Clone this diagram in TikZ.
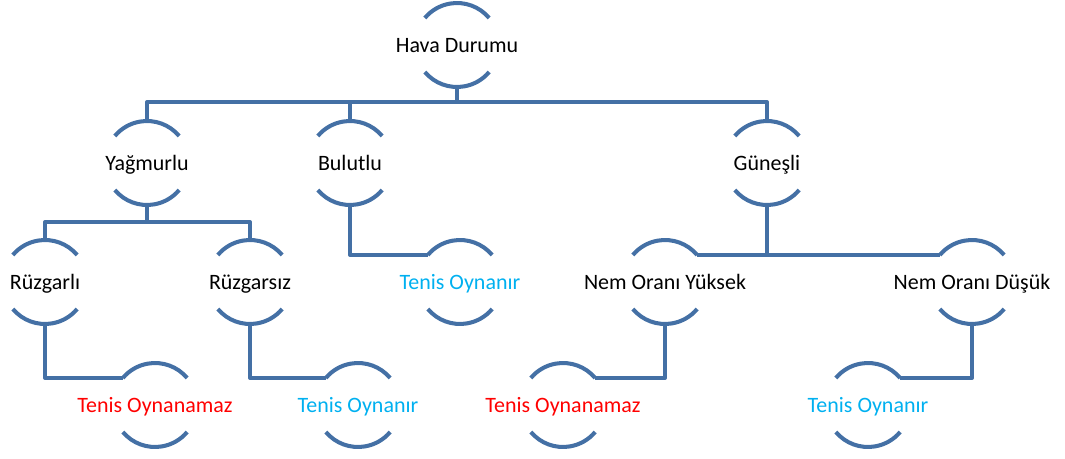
\documentclass[tikz,border=0pt]{standalone}
\usepackage{fontspec}
\setmainfont{Carlito}
\definecolor{treeblue}{RGB}{68,112,165}
\definecolor{playblue}{RGB}{0,176,240}
\definecolor{noplayred}{RGB}{255,0,0}
\tikzset{
  leaf/.style={circle,draw=none,minimum size=1.68cm,inner sep=0pt,outer sep=0pt},
  every label/.style={font=\fontsize{12.5}{15}\selectfont,inner sep=0pt,
    text height=8pt,text depth=0pt},
  play/.style={text=playblue},
  noplay/.style={text=noplayred},
  link/.style={draw=treeblue,line width=2.3pt,line join=round}
}
\begin{document}
\begin{tikzpicture}[x=0.02cm,y=0.02cm]
  \useasboundingbox (0,0) rectangle (1065,-459);

  \node[leaf,label={center:Hava Durumu}] (hava) at (457,-45) {};
  \node[leaf,label={center:Yağmurlu}] (yagmurlu) at (147,-163) {};
  \node[leaf,label={center:Bulutlu}] (bulutlu) at (350,-163) {};
  \node[leaf,label={center:Güneşli}] (gunesli) at (767,-163) {};
  \node[leaf,label={center:Rüzgarlı}] (ruzgarli) at (45,-282) {};
  \node[leaf,label={center:Rüzgarsız}] (ruzgarsiz) at (250,-282) {};
  \node[leaf,label={[play]center:Tenis Oynanır}] (bulutlutenis) at (460,-282) {};
  \node[leaf,label={center:Nem Oranı Yüksek}] (nemyuksek) at (665,-282) {};
  \node[leaf,label={center:Nem Oranı Düşük}] (nemdusuk) at (972,-282) {};
  \node[leaf,label={[noplay]center:Tenis Oynanamaz}] (ruzgarlitenis) at (155,-405) {};
  \node[leaf,label={[play]center:Tenis Oynanır}] (ruzgarsiztenis) at (358,-405) {};
  \node[leaf,label={[noplay]center:Tenis Oynanamaz}] (yuksektenis) at (563,-405) {};
  \node[leaf,label={[play]center:Tenis Oynanır}] (dusuktenis) at (868,-405) {};

  \foreach \n in {hava,yagmurlu,bulutlu,gunesli,ruzgarli,ruzgarsiz,bulutlutenis,
      nemyuksek,nemdusuk,ruzgarlitenis,ruzgarsiztenis,yuksektenis,dusuktenis}{
    \draw[link] (\n.40) arc[start angle=40,end angle=140,radius=0.84cm];
    \draw[link] (\n.220) arc[start angle=220,end angle=320,radius=0.84cm];
  }

  \coordinate (havabar) at (457,-102);
  \coordinate (yagmurlubar) at (147,-222);

  \draw[link] (hava.south) -- (havabar);
  \draw[link] (yagmurlu.north) |- (havabar) -| (gunesli.north);
  \draw[link] (bulutlu.north) -- (bulutlu.north |- havabar);

  \draw[link] (yagmurlu.south) -- (yagmurlubar);
  \draw[link] (ruzgarli.north) |- (yagmurlubar) -| (ruzgarsiz.north);

  \draw[link] (bulutlu.south) |- (bulutlutenis.140);
  \draw[link] (gunesli.south) -- (gunesli.south |- nemyuksek.40);
  \draw[link] (nemyuksek.40) -- (nemdusuk.140);

  \draw[link] (ruzgarli.south) |- (ruzgarlitenis.140);
  \draw[link] (ruzgarsiz.south) |- (ruzgarsiztenis.140);
  \draw[link] (nemyuksek.south) |- (yuksektenis.40);
  \draw[link] (nemdusuk.south) |- (dusuktenis.40);
\end{tikzpicture}
\end{document}
